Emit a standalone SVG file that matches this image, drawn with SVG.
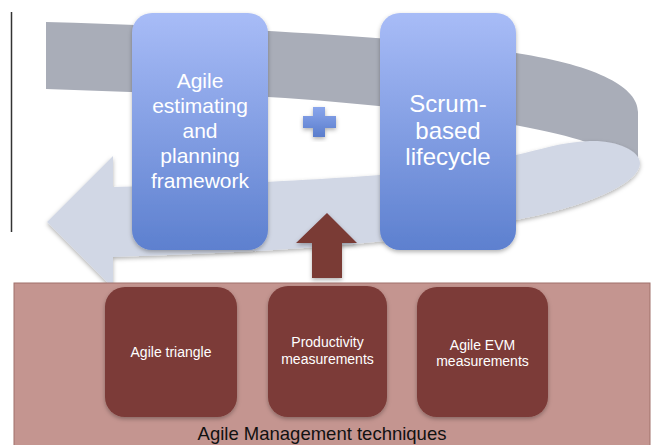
<svg xmlns="http://www.w3.org/2000/svg" width="652" height="445" viewBox="0 0 652 445">
<defs>
<linearGradient id="blueGrad" x1="0" y1="0" x2="0" y2="1">
<stop offset="0" stop-color="#a8bcf7"/>
<stop offset="1" stop-color="#5d80cf"/>
</linearGradient>
<linearGradient id="plusGrad" x1="0" y1="0" x2="0" y2="1">
<stop offset="0" stop-color="#8aa6ec"/>
<stop offset="1" stop-color="#5a7dcc"/>
</linearGradient>
<filter id="shadow" x="-10%" y="-10%" width="125%" height="125%">
<feDropShadow dx="0" dy="2" stdDeviation="2" flood-color="#000" flood-opacity="0.3"/>
</filter>
<style>
.blue{fill:url(#blueGrad);filter:url(#shadow)}
.brown{fill:#7b3a37;filter:url(#shadow)}
.bt{font-family:"Liberation Sans",Arial,sans-serif;fill:#fff;text-anchor:middle}
.big{font-size:21px}
.big2{font-size:24px}
.small{font-size:14px}
.label{font-family:"Liberation Sans",Arial,sans-serif;fill:#111;font-size:18.5px;text-anchor:middle}
</style>
</defs>
<rect width="652" height="445" fill="#fff"/>
<line x1="11.5" y1="12" x2="11.5" y2="232" stroke="#333" stroke-width="1.5"/>
<g id="cycle">
<path d="M46,22 C250,28 420,38 516,53 C600,66 638,88 638,112 L638,165 C620,155 600,147 580,140 C520,122 400,105 268,97 L46,89 Z" fill="#a9adb8"/>
<path d="M113,156 L47,222 L113,288 L113,257 C250,253 420,244 516,220 C580,208 640,185 640,163 C640,150 615,140 590,141 C560,142 540,150 516,155 C470,172 300,183 113,187 Z" fill="#d1d7e5" filter="url(#shadow)"/>
</g>
<g id="agile-management">
<rect x="14" y="283" width="636" height="175" fill="#c49590" stroke="#a0706b" stroke-width="1"/>
<text class="label" x="322" y="440">Agile Management techniques</text>
</g>
<g id="connectors">
<path d="M327,213 L357,243 L342,243 L342,278 L312,278 L312,243 L296,243 Z" fill="#7a3a36" filter="url(#shadow)"/>
</g>
<g id="estimating-box">
<rect class="blue" x="132" y="13" width="136" height="237" rx="20"/>
<text class="bt big" x="200" y="88">Agile</text>
<text class="bt big" x="200" y="113">estimating</text>
<text class="bt big" x="200" y="138">and</text>
<text class="bt big" x="200" y="163">planning</text>
<text class="bt big" x="200" y="188">framework</text>
</g>
<g id="plus">
<path d="M313,107 L325,107 L325,116 L336,116 L336,128 L325,128 L325,137 L313,137 L313,128 L303,128 L303,116 L313,116 Z" fill="url(#plusGrad)" filter="url(#shadow)"/>
</g>
<g id="scrum-box">
<rect class="blue" x="380" y="13" width="136" height="237" rx="20"/>
<text class="bt big2" x="448" y="112">Scrum-</text>
<text class="bt big2" x="448" y="138.5">based</text>
<text class="bt big2" x="448" y="165">lifecycle</text>
</g>
<g id="triangle-box">
<rect class="brown" x="105" y="287" width="132" height="130" rx="20"/>
<text class="bt small" x="171" y="357">Agile triangle</text>
</g>
<g id="productivity-box">
<rect class="brown" x="268" y="286" width="119" height="131" rx="20"/>
<text class="bt small" x="327.5" y="347">Productivity</text>
<text class="bt small" x="327.5" y="364">measurements</text>
</g>
<g id="evm-box">
<rect class="brown" x="417" y="287" width="131" height="130" rx="20"/>
<text class="bt small" x="482.5" y="350">Agile EVM</text>
<text class="bt small" x="482.5" y="366">measurements</text>
</g>
</svg>
